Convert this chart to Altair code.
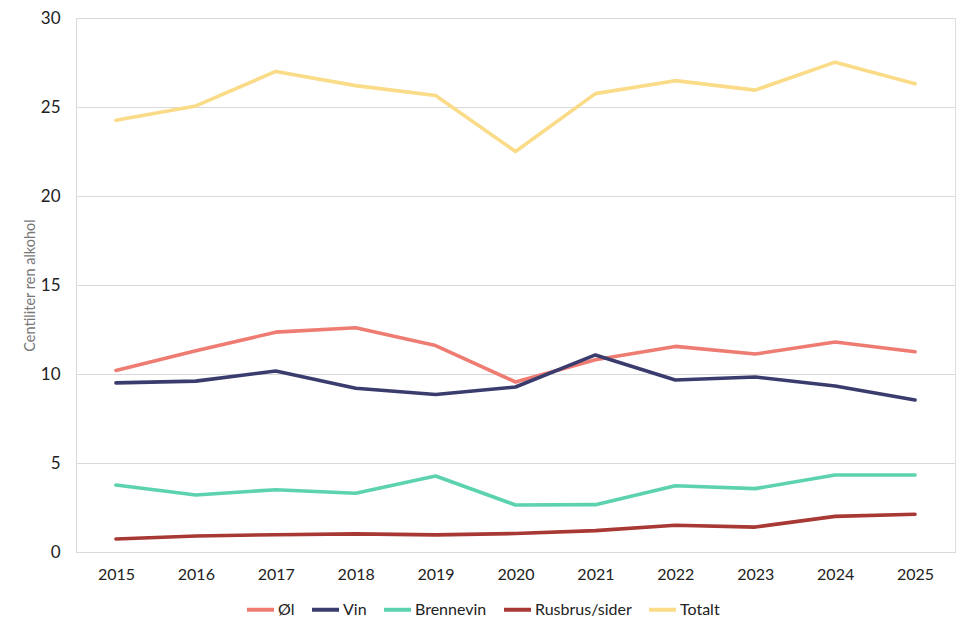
import altair as alt
import pandas as pd

years = [2015, 2016, 2017, 2018, 2019, 2020, 2021, 2022, 2023, 2024, 2025]
ol = [10.2, 11.3, 12.35, 12.6, 11.6, 9.55, 10.8, 11.55, 11.12, 11.8, 11.25]
vin = [9.5, 9.6, 10.17, 9.2, 8.85, 9.27, 11.07, 9.66, 9.83, 9.33, 8.54]
brennevin = [3.76, 3.2, 3.5, 3.3, 4.27, 2.64, 2.66, 3.72, 3.56, 4.33, 4.33]
rusbrus = [0.73, 0.9, 0.97, 1.02, 0.96, 1.04, 1.2, 1.5, 1.4, 2.0, 2.12]
totalt = [24.25, 25.06, 27.0, 26.2, 25.65, 22.5, 25.75, 26.48, 25.95, 27.52, 26.3]

series_names = ["Øl", "Vin", "Brennevin", "Rusbrus/sider", "Totalt"]
series_values = [ol, vin, brennevin, rusbrus, totalt]
colors = ["#EE7C72", "#3A3C6E", "#5CD2AE", "#A83834", "#FADB87"]

rows = []
for order, (name, vals) in enumerate(zip(series_names, series_values)):
    for y, v in zip(years, vals):
        rows.append({"År": str(y), "Serie": name, "Verdi": v, "rekkefolge": order})
df = pd.DataFrame(rows)

FONT = "Lato"

chart = alt.Chart(df).mark_line(strokeWidth=3.6, strokeCap="round", strokeJoin="round").encode(
    x=alt.X("År:O", scale=alt.Scale(type="point", padding=0.5),
            axis=alt.Axis(title=None, labelAngle=0, labelFontSize=16, labelColor="#222222",
                          labelFont=FONT, ticks=False, domain=False, labelPadding=14, grid=False)),
    y=alt.Y("Verdi:Q", scale=alt.Scale(domain=[0, 30]),
            axis=alt.Axis(title="Centiliter ren alkohol", titleFontSize=14.5, titleColor="#777777",
                          titleFont=FONT, titleFontWeight="normal", titlePadding=3,
                          values=[0, 5, 10, 15, 20, 25, 30], labelFontSize=17, labelColor="#222222",
                          labelFont=FONT, ticks=False, domain=True, domainColor="#d9d9d9",
                          gridColor="#d9d9d9", gridWidth=1, labelPadding=16)),
    color=alt.Color("Serie:N", scale=alt.Scale(domain=series_names, range=colors),
                    sort=series_names,
                    legend=alt.Legend(title=None, orient="none", direction="horizontal",
                                      legendX=169, legendY=576, symbolType="stroke",
                                      symbolStrokeWidth=4, symbolSize=729, labelFontSize=16,
                                      labelFont=FONT, labelColor="#222222", columnPadding=9,
                                      labelOffset=2, symbolOffset=0)),
    detail="rekkefolge:O",
    order="År:O",
).properties(
    width=879, height=534,
    autosize=alt.AutoSizeParams(type="none"),
    padding={"left": 76, "top": 18, "right": 15, "bottom": 81},
).configure_view(stroke=None).configure(background="white")

chart.save("out.html", embed_options={"renderer": "svg", "actions": False})
